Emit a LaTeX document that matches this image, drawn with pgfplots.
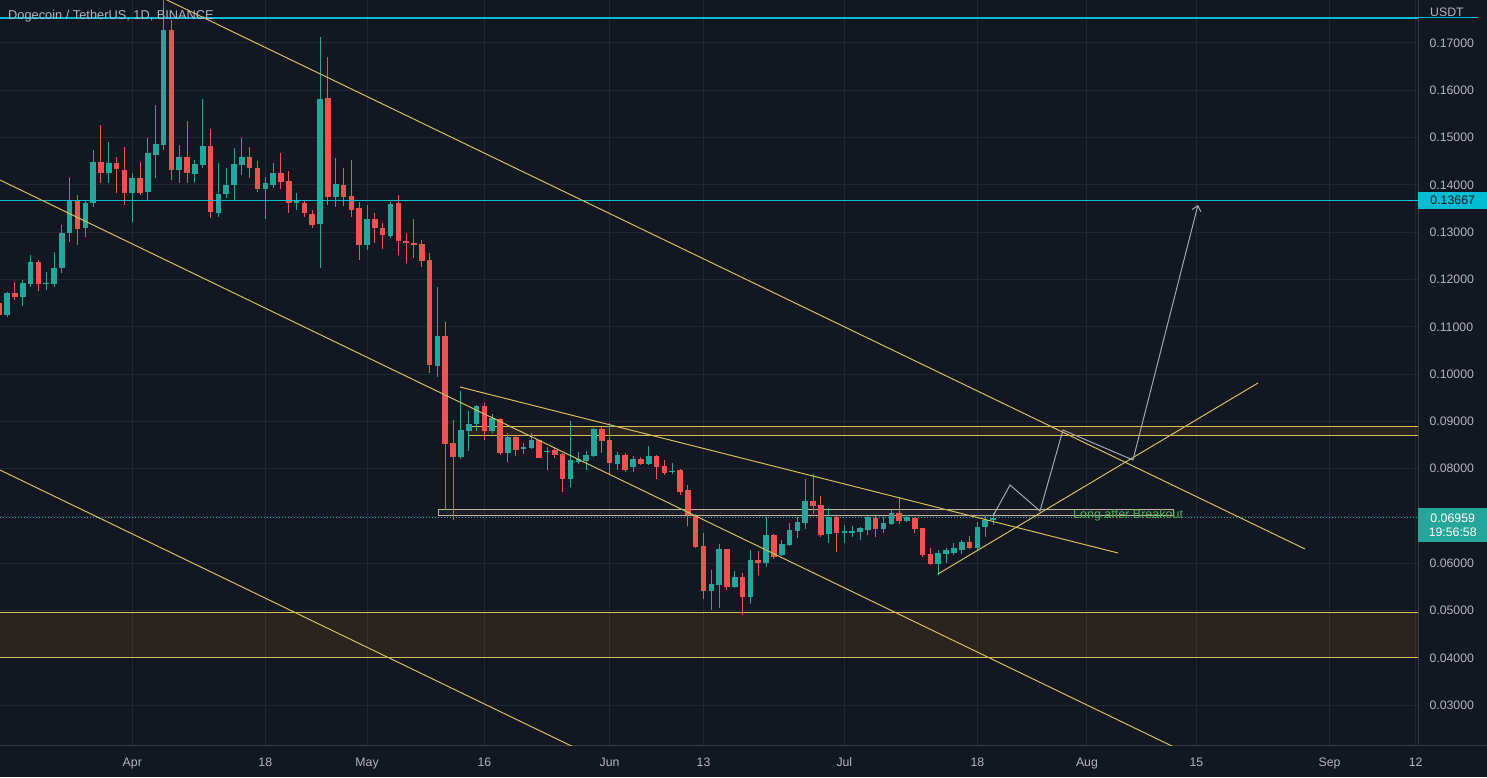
\documentclass[border=0pt]{standalone}
\usepackage{pgfplots}
\pgfplotsset{compat=1.18}
\usepackage{pgfplotstable}
\usepackage{fontspec}
\setmainfont{Liberation Sans}
\usetikzlibrary{arrows.meta}
\definecolor{bgc}{HTML}{131722}
\definecolor{gridc}{HTML}{222632}
\definecolor{axc}{HTML}{363A45}
\definecolor{labc}{HTML}{B2B5BE}
\definecolor{upc}{HTML}{26A69A}
\definecolor{dnc}{HTML}{EF5350}
\definecolor{cyanc}{HTML}{00BCD4}
\definecolor{yelc}{HTML}{D1BF5B}
\definecolor{beigec}{HTML}{BDB49A}
\definecolor{arrc}{HTML}{A3A6AF}
\definecolor{txtg}{HTML}{4CAF50}
\definecolor{zonec}{HTML}{FF9800}

\pgfplotstableread{
d o h l c
-16 0.11249 0.11742 0.11213 0.11708
-14 0.11636 0.11989 0.11440 0.11932
-13 0.11905 0.12518 0.11848 0.12376
-11 0.11905 0.12165 0.11778 0.11932
-10 0.11905 0.12588 0.11848 0.12237
-9 0.12237 0.13152 0.12131 0.12977
-8 0.12989 0.14139 0.12799 0.13681
-6 0.13082 0.13681 0.12892 0.13624
-5 0.13611 0.14738 0.13539 0.14490
-3 0.14245 0.14907 0.14034 0.14457
0 0.13822 0.14245 0.13222 0.14139
2 0.13856 0.14985 0.13681 0.14668
3 0.14632 0.15689 0.14139 0.14865
4 0.14843 0.17900 0.14738 0.17275
6 0.14315 0.14843 0.14034 0.14583
8 0.14230 0.14526 0.14068 0.14436
9 0.14414 0.15810 0.14351 0.14822
11 0.13399 0.14457 0.13328 0.13807
12 0.13801 0.14351 0.13722 0.13998
13 0.13998 0.14786 0.13681 0.14435
14 0.14421 0.14998 0.14209 0.14583
17 0.13913 0.14174 0.13273 0.14034
18 0.13998 0.14469 0.13928 0.14245
21 0.13611 0.13822 0.13469 0.13666
24 0.13173 0.17133 0.12237 0.15816
26 0.13750 0.14562 0.13526 0.14019
30 0.12740 0.13575 0.12617 0.13273
33 0.12920 0.13645 0.12871 0.13596
39 0.10178 0.11848 0.09932 0.10805
42 0.08241 0.09649 0.08199 0.08818
43 0.08803 0.09226 0.08380 0.08945
44 0.08945 0.09347 0.08803 0.09326
46 0.08803 0.09156 0.08748 0.09065
48 0.08338 0.08761 0.08148 0.08676
50 0.08410 0.08537 0.08311 0.08452
51 0.08431 0.08748 0.08410 0.08607
53 0.08353 0.08452 0.07966 0.08380
56 0.07776 0.09015 0.07607 0.08184
57 0.08148 0.08359 0.08099 0.08199
58 0.08169 0.08380 0.07972 0.08290
59 0.08268 0.08854 0.08254 0.08833
62 0.08099 0.08359 0.07966 0.08290
64 0.08042 0.08268 0.07936 0.08199
66 0.08099 0.08480 0.08078 0.08268
69 0.07924 0.08127 0.07888 0.07958
74 0.05421 0.05858 0.05013 0.05562
75 0.05541 0.06408 0.05048 0.06296
77 0.05505 0.05837 0.05471 0.05717
79 0.05294 0.06281 0.05139 0.06070
81 0.06000 0.06985 0.05928 0.06598
83 0.06175 0.06492 0.06154 0.06408
84 0.06387 0.06846 0.06366 0.06704
85 0.06689 0.06985 0.06528 0.06879
86 0.06858 0.07776 0.06719 0.07323
89 0.06619 0.07163 0.06423 0.06985
91 0.06647 0.06810 0.06423 0.06689
92 0.06647 0.06788 0.06562 0.06689
93 0.06668 0.06774 0.06492 0.06740
94 0.06704 0.07000 0.06598 0.06972
96 0.06719 0.06985 0.06647 0.06846
97 0.06831 0.07127 0.06810 0.07070
99 0.06901 0.07021 0.06879 0.06972
103 0.05985 0.06281 0.05753 0.06224
104 0.06197 0.06317 0.06000 0.06281
105 0.06224 0.06435 0.06175 0.06317
106 0.06281 0.06501 0.06197 0.06450
108 0.06317 0.06879 0.06281 0.06774
109 0.06774 0.07021 0.06562 0.06915
110 0.06915 0.07056 0.06810 0.06959
}\up

\pgfplotstableread{
d o h l c
-17 0.11503 0.11651 0.11186 0.11249
-15 0.11721 0.11953 0.11567 0.11636
-12 0.12376 0.12412 0.11763 0.11905
-7 0.13659 0.13786 0.12729 0.13061
-4 0.14490 0.15266 0.14046 0.14245
-2 0.14457 0.14596 0.13822 0.14330
-1 0.14315 0.14808 0.13575 0.13822
1 0.14139 0.14478 0.13786 0.13835
5 0.17275 0.17486 0.14103 0.14315
7 0.14583 0.15357 0.14046 0.14245
10 0.14822 0.15175 0.13294 0.13421
15 0.14583 0.14808 0.14156 0.14351
16 0.14351 0.14505 0.13856 0.13907
19 0.14245 0.14681 0.13907 0.14068
20 0.14082 0.14300 0.13412 0.13624
22 0.13624 0.13681 0.13328 0.13399
23 0.13385 0.13469 0.13082 0.13152
25 0.15831 0.16698 0.13575 0.13750
27 0.13998 0.14351 0.13554 0.13750
28 0.13771 0.14526 0.13328 0.13469
29 0.13505 0.13645 0.12412 0.12729
31 0.13273 0.13399 0.12765 0.13082
32 0.13082 0.13201 0.12638 0.12941
34 0.13611 0.13786 0.12518 0.12820
35 0.12820 0.12989 0.12355 0.12778
36 0.12778 0.13273 0.12448 0.12729
37 0.12750 0.12835 0.12258 0.12397
38 0.12412 0.12554 0.10017 0.10192
40 0.10805 0.11108 0.07127 0.08522
41 0.08550 0.09030 0.06915 0.08241
45 0.09326 0.09383 0.08607 0.08803
47 0.09044 0.09065 0.08290 0.08338
49 0.08676 0.08691 0.08268 0.08395
52 0.08607 0.08607 0.08220 0.08232
54 0.08395 0.08452 0.08220 0.08290
55 0.08311 0.08338 0.07514 0.07776
60 0.08833 0.08875 0.08325 0.08592
61 0.08607 0.08960 0.07888 0.08114
63 0.08290 0.08325 0.07936 0.07966
65 0.08199 0.08241 0.08078 0.08099
67 0.08268 0.08290 0.07776 0.08042
68 0.08057 0.08184 0.07867 0.07915
70 0.07972 0.07990 0.07444 0.07514
71 0.07550 0.07655 0.06788 0.07021
72 0.07000 0.07042 0.06317 0.06351
73 0.06366 0.06634 0.05239 0.05421
76 0.06296 0.06296 0.05435 0.05505
78 0.05717 0.05794 0.04907 0.05294
80 0.06070 0.06266 0.05753 0.06013
82 0.06598 0.06619 0.06084 0.06139
87 0.07323 0.07888 0.07042 0.07211
88 0.07232 0.07416 0.06562 0.06598
90 0.06972 0.07000 0.06245 0.06634
95 0.06964 0.07000 0.06562 0.06719
98 0.07070 0.07395 0.06831 0.06901
100 0.06951 0.06972 0.06634 0.06719
101 0.06740 0.06753 0.06139 0.06175
102 0.06197 0.06317 0.05964 0.05985
107 0.06450 0.06577 0.06296 0.06317
}\dn

\newcommand\candles[2]{%
\addplot[draw=none, mark=none, forget plot,
  error bars/.cd, y dir=both, y explicit, error mark=none,
  error bar style={draw=#2, line width=1pt, solid}]
  table[x=d, y expr={(\thisrow{h}+\thisrow{l})/2}, y error expr={(\thisrow{h}-\thisrow{l})/2}] {#1};
\addplot[draw=none, mark=none, forget plot,
  error bars/.cd, y dir=both, y explicit, error mark=none,
  error bar style={draw=#2, line width=5.6pt, solid}]
  table[x=d, y expr={(\thisrow{o}+\thisrow{c})/2}, y error expr={abs(\thisrow{c}-\thisrow{o})/2}] {#1};
}

\begin{document}
\begin{tikzpicture}
\fill[bgc] (0,0) rectangle (1487pt,777pt);
\useasboundingbox (0,0) rectangle (1487pt,777pt);
\begin{axis}[
  at={(0pt,32pt)}, anchor=south west,
  width=1418pt, height=745pt, scale only axis,
  xmin=-16.907, xmax=164.31, ymin=0.021586, ymax=0.179091,
  clip mode=individual,
  axis x line*=bottom, axis y line*=right,
  axis line style={draw=axc, line width=1pt},
  major tick length=0pt,
  xtick={0,17,30,45,61,73,91,108,122,136,153,164},
  xticklabels={Apr,18,May,16,Jun,13,Jul,18,Aug,15,Sep,12},
  ytick={0.03,0.04,0.05,0.06,0.07,0.08,0.09,0.10,0.11,0.12,0.13,0.14,0.15,0.16,0.17},
  yticklabels={0.03000,0.04000,0.05000,0.06000,,0.08000,0.09000,0.10000,0.11000,0.12000,0.13000,0.14000,0.15000,0.16000,0.17000},
  grid=major, major grid style={draw=gridc, line width=1pt},
  tick label style={font=\fontsize{12.3}{14}\selectfont, text=labc},
  xticklabel style={anchor=base, yshift=-21pt},
  yticklabel style={anchor=west, xshift=8pt},
  scaled y ticks=false,
]
% support zone (brown)
\addplot[draw=none, fill=zonec, fill opacity=0.10, forget plot]
  coordinates {(-20,0.04962) (170,0.04962) (170,0.04020) (-20,0.04020) (-20,0.04962)};
\addplot[draw=yelc, line width=0.9pt, forget plot] coordinates {(-20,0.04962) (170,0.04962)};
\addplot[draw=yelc, line width=0.9pt, forget plot] coordinates {(-20,0.04020) (170,0.04020)};
% resistance band
\addplot[draw=yelc, line width=0.9pt, fill=zonec, fill opacity=0.10, forget plot]
  coordinates {(42.9,0.08888) (170,0.08888) (170,0.08713) (42.9,0.08713) (42.9,0.08888)};
% breakout box
\addplot[draw=beigec, line width=0.9pt, fill=beigec, fill opacity=0.06, forget plot]
  coordinates {(39.07,0.07148) (133.0,0.07148) (133.0,0.07021) (39.07,0.07021) (39.07,0.07148)};
% current price dotted line
\addplot[draw=upc, line width=0.9pt, dash pattern=on 1pt off 2pt, forget plot]
  coordinates {(-20,0.06959) (170,0.06959)};
% candles
\candles{\up}{upc}
\candles{\dn}{dnc}
% horizontal cyan levels
\addplot[draw=cyanc, line width=1.2pt, forget plot] coordinates {(-20,0.17528) (170,0.17528)};
\addplot[draw=cyanc, line width=1.2pt, forget plot] coordinates {(-20,0.13667) (170,0.13667)};
% trend lines
\addplot[draw=yelc, line width=1pt, forget plot] coordinates {(2.26,0.18082) (149.87,0.06302)};
\addplot[draw=yelc, line width=1pt, forget plot] coordinates {(-16.907,0.14103) (136.45,0.01850)};
\addplot[draw=yelc, line width=1pt, forget plot] coordinates {(-16.907,0.07972) (59.77,0.01846)};
\addplot[draw=yelc, line width=1pt, forget plot] coordinates {(41.88,0.09727) (125.97,0.06218)};
\addplot[draw=yelc, line width=1pt, forget plot] coordinates {(102.96,0.05774) (143.86,0.09812)};
% projected path
\addplot[draw=arrc, line width=1pt, forget plot, -{Straight Barb[length=5pt,width=9pt]}]
  coordinates {(109.99,0.06999) (112.17,0.07655) (116.0,0.07106) (118.94,0.08818) (127.88,0.08184) (136.19,0.13575)};
\node[anchor=west, text=txtg, font=\fontsize{12.5}{14}\selectfont, inner sep=0pt] at (axis cs:120.22,0.07021) {Long after Breakout};
% price scale labels
\node[fill=cyanc, text=bgc, minimum width=69pt, minimum height=17pt, inner sep=0pt, anchor=west,
  font=\fontsize{12.3}{14}\selectfont] at (axis cs:164.31,0.13667) {0.13667};
\node[fill=upc, text=white, minimum width=69pt, minimum height=34pt, inner sep=0pt, anchor=north west,
  align=center, font=\fontsize{12.3}{14}\selectfont] at (axis cs:164.31,0.07169) {0.06959\\19:56:58};
\end{axis}
\draw[axc, line width=1pt] (1418pt,32pt) -- (1487pt,32pt);
\draw[cyanc, line width=1.5pt] (1418pt,759.5pt) -- (1478pt,759.5pt);
\node[anchor=west, text=labc, font=\fontsize{12.3}{14}\selectfont, inner sep=0pt] at (1430pt,765pt) {USDT};
\node[anchor=west, text=labc, font=\fontsize{12.8}{14}\selectfont, inner sep=0pt] at (8pt,761pt) {Dogecoin / TetherUS, 1D, BINANCE};
\end{tikzpicture}
\end{document}
